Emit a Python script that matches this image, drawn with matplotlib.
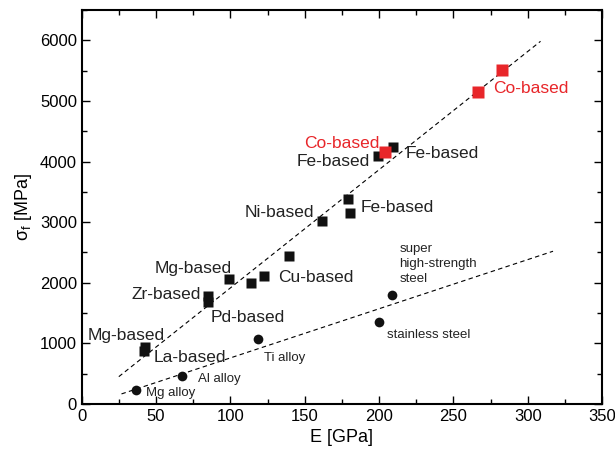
import matplotlib
matplotlib.use("Agg")
import matplotlib.pyplot as plt
from matplotlib.ticker import MultipleLocator

plt.rcParams['font.family'] = ['Liberation Sans', 'DejaVu Sans']
plt.rcParams['mathtext.fontset'] = 'custom'
plt.rcParams['mathtext.rm'] = 'Liberation Sans'
plt.rcParams['mathtext.it'] = 'Liberation Sans'

# bulk metallic glasses (black squares)
bmg_E = [209.6, 199.3, 178.9, 180.5, 161.4, 139.3, 122.3, 113.7, 99.0, 85.1, 85.1, 42.3, 42.0]
bmg_s = [4234, 4086, 3389, 3152, 3015, 2438, 2109, 1988, 2064, 1779, 1685, 934, 880]

# Co-based glasses (red squares)
co_E = [282.8, 266.7, 203.8]
co_s = [5519, 5140, 4151]

# crystalline alloys (circles)
cryst_E = [36.3, 67.6, 118.7, 208.7, 200.0]
cryst_s = [231, 456, 1066, 1790, 1356]

# fitted trend lines (end points)
fit_bmg_E = [24.9, 308.6]
fit_bmg_s = [450, 5985]
fit_cryst_E = [26.7, 317.0]
fit_cryst_s = [165, 2520]

fig = plt.figure(figsize=(6.15, 4.59), dpi=100)
ax = fig.add_axes([0.133, 0.12, 0.846, 0.858])

ax.plot(fit_bmg_E, fit_bmg_s, ls=(0, (4, 3)), color='black', lw=0.8)
ax.plot(fit_cryst_E, fit_cryst_s, ls=(0, (4, 3)), color='black', lw=0.8)

ax.plot(bmg_E, bmg_s, 's', color='#111111', ms=7, mec='none')
ax.plot(co_E, co_s, 's', color='#e8262a', ms=8, mec='none')
ax.plot(cryst_E, cryst_s, 'o', color='#111111', ms=7, mec='none')

big = 12.5
small = 9.5
ax.text(276.8, 5206, 'Co-based', color='#e8262a', fontsize=big, ha='left', va='center')
ax.text(200.2, 4305, 'Co-based', color='#e8262a', fontsize=big, ha='right', va='center')
ax.text(194.1, 4008, 'Fe-based', color='#222222', fontsize=big, ha='right', va='center')
ax.text(217.7, 4130, 'Fe-based', color='#222222', fontsize=big, ha='left', va='center')
ax.text(187.9, 3240, 'Fe-based', color='#222222', fontsize=big, ha='left', va='center')
ax.text(156.0, 3158, 'Ni-based', color='#222222', fontsize=big, ha='right', va='center')
ax.text(101.2, 2235, 'Mg-based', color='#222222', fontsize=big, ha='right', va='center')
ax.text(131.9, 2087, 'Cu-based', color='#222222', fontsize=big, ha='left', va='center')
ax.text(80.4, 1801, 'Zr-based', color='#222222', fontsize=big, ha='right', va='center')
ax.text(86.7, 1433, 'Pd-based', color='#222222', fontsize=big, ha='left', va='center')
ax.text(55.8, 1125, 'Mg-based', color='#222222', fontsize=big, ha='right', va='center')
ax.text(48.4, 763, 'La-based', color='#222222', fontsize=big, ha='left', va='center')

ax.text(122.5, 763, 'Ti alloy', color='#222222', fontsize=small, ha='left', va='center')
ax.text(78.1, 412, 'Al alloy', color='#222222', fontsize=small, ha='left', va='center')
ax.text(43.0, 176, 'Mg alloy', color='#222222', fontsize=small, ha='left', va='center')
ax.text(205.1, 1137, 'stainless steel', color='#222222', fontsize=small, ha='left', va='center')
ax.text(213.6, 2306, 'super\nhigh-strength\nsteel', color='#222222', fontsize=small,
        ha='left', va='center', linespacing=1.35)

ax.set_xlim(0, 350)
ax.set_ylim(0, 6500)
ax.xaxis.set_major_locator(MultipleLocator(50))
ax.xaxis.set_minor_locator(MultipleLocator(25))
ax.yaxis.set_major_locator(MultipleLocator(1000))
ax.yaxis.set_minor_locator(MultipleLocator(500))
ax.tick_params(which='both', direction='in', top=True, right=True, width=1.0, labelsize=12)
ax.tick_params(which='major', length=6)
ax.tick_params(which='minor', length=3.5)
ax.set_yticks(range(0, 6001, 1000))
for sp in ax.spines.values():
    sp.set_linewidth(1.5)

ax.set_xlabel('E [GPa]', fontsize=13)
ax.set_ylabel(r'$\mathrm{\sigma_f}$ [MPa]', fontsize=13)

fig.savefig('out.png', dpi=100)
